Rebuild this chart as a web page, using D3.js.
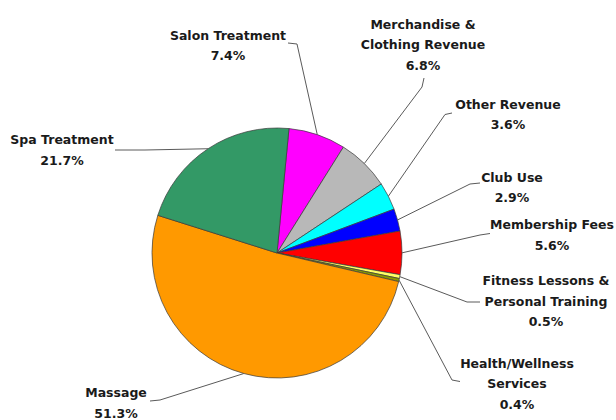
<!DOCTYPE html>
<html>
<head>
<meta charset="utf-8">
<script src="https://cdn.jsdelivr.net/npm/d3@7"></script>
<style>
  html, body { margin: 0; padding: 0; background: #fff; }
  svg text { font-family: 'DejaVu Sans', Verdana, sans-serif; font-weight: bold; fill: #1a1a1a; }
</style>
</head>
<body>
<svg id="chart" width="616" height="420"></svg>
<script>
// revenue share by source, clockwise from the top
const categories = ['Salon Treatment', 'Merchandise & Clothing Revenue', 'Other Revenue', 'Club Use',
  'Membership Fees', 'Fitness Lessons & Personal Training', 'Health/Wellness Services', 'Massage', 'Spa Treatment']
const shares = [7.4, 6.8, 3.6, 2.9, 5.6, 0.5, 0.4, 51.3, 21.7]
const labelLines = [['Salon Treatment'], ['Merchandise &', 'Clothing Revenue'], ['Other Revenue'], ['Club Use'],
  ['Membership Fees'], ['Fitness Lessons &', 'Personal Training'], ['Health/Wellness', 'Services'], ['Massage'], ['Spa Treatment']]
const sliceColors = ['#ff00ff', '#b8b8b8', '#00ffff', '#0000ff', '#ff0000', '#ffff66', '#8a9a00', '#ff9900', '#339966']

// label placement: text centre/first baseline, leader start and knee
const labelLayout = [
  { x: 228, y: 39.5, from: [288, 43], knee: [297, 44] },
  { x: 423, y: 28.5, from: [424, 78], knee: [422, 87] },
  { x: 508, y: 108.5, from: [452, 113], knee: [445, 114.5] },
  { x: 512, y: 181.5, from: [480, 183], knee: [470, 184] },
  { x: 552, y: 229, from: [490, 233.5], knee: [480, 235] },
  { x: 546, y: 285, from: [480, 302], knee: [467, 302] },
  { x: 517, y: 367.5, from: [460, 381.5], knee: [452, 380] },
  { x: 116, y: 397, from: [150, 401], knee: [160, 400] },
  { x: 62, y: 144, from: [115, 150], knee: [145, 150] }
]

const cx = 277
const cy = 253
const radius = 125
const lineGap = 20.5
const start = 5.5 * Math.PI / 180

const svg = d3.select('#chart')
const g = svg.append('g').attr('transform', `translate(${cx},${cy})`)

const pie = d3.pie().sort(null).value(d => d)
  .startAngle(start).endAngle(start + 2 * Math.PI)
const arcs = pie(shares)

const arc = d3.arc().innerRadius(0).outerRadius(radius)
const rim = d3.arc().innerRadius(radius).outerRadius(radius)

g.selectAll('path.slice')
  .data(arcs)
  .join('path')
  .attr('class', 'slice')
  .attr('d', arc)
  .style('fill', (d, i) => sliceColors[i])
  .style('stroke', '#3a3a3a')
  .style('stroke-width', 0.7)

// leaders
svg.selectAll('polyline.leader')
  .data(arcs)
  .join('polyline')
  .attr('class', 'leader')
  .attr('points', (d, i) => {
    let p = rim.centroid(d)
    let L = labelLayout[i]
    return [L.from, L.knee, [p[0] + cx, p[1] + cy]].map(q => q.join(',')).join(' ')
  })
  .style('fill', 'none')
  .style('stroke', '#5a5a5a')
  .style('stroke-width', 1)

// labels
const labels = svg.selectAll('text.label')
  .data(arcs)
  .join('text')
  .attr('class', 'label')
  .attr('text-anchor', 'middle')
  .style('font-size', '12.5px')

labels.each(function (d, i) {
  let L = labelLayout[i]
  let rows = labelLines[i].concat([d3.format('.1f')(shares[i]) + '%'])
  d3.select(this).selectAll('tspan')
    .data(rows)
    .join('tspan')
    .attr('x', L.x)
    .attr('y', (r, k) => L.y + k * lineGap)
    .text(r => r)
})
</script>
</body>
</html>
